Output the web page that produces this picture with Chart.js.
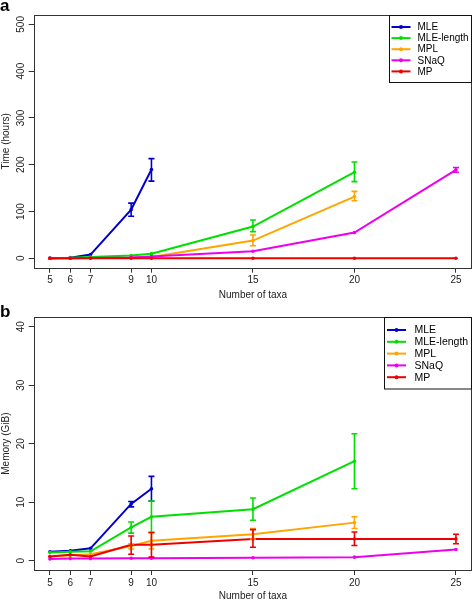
<!DOCTYPE html>
<html>
<head>
<meta charset="utf-8">
<script src="https://cdn.jsdelivr.net/npm/chart.js@4.4.1/dist/chart.umd.min.js"></script>
<style>
  html, body { margin: 0; padding: 0; background: #fff; }
  #wrap { position: relative; width: 474px; height: 601px; overflow: hidden; }
  .lab { position: absolute; font-family: "Liberation Sans", Arial, sans-serif; font-weight: bold; font-size: 17px; line-height: 1; color: #000; }
</style>
</head>
<body>
<div id="wrap">
  <div style="position:absolute;left:0;top:0;width:474px;height:300px"><canvas id="cA"></canvas></div>
  <div style="position:absolute;left:0;top:300px;width:474px;height:301px"><canvas id="cB"></canvas></div>
  <div class="lab" style="left:0;top:-3px">a</div>
  <div class="lab" style="left:0;top:303px">b</div>
</div>
<script>
// ---------------- DATA ----------------
const taxa = [5, 6, 7, 9, 10, 15, 20, 25];
const methods = ['MLE', 'MLE-length', 'MPL', 'SNaQ', 'MP'];
const methodColors = ['#0000CD', '#00E000', '#FFA500', '#EE00EE', '#EE0000'];

// Panel a: time (hours)
const timeMLE       = [0.4, 1.5, 8, 104, 190, null, null, null];
const timeMLElength = [0.3, 1, 3, 6, 10, 68, 184, null];
const timeMPL       = [0.1, 0.3, 0.8, 1.5, 3, 38, 132, null];
const timeSNaQ      = [0.1, 0.3, 0.8, 2, 4, 15, 55, 189];
const timeMP        = [0.2, 0.2, 0.2, 0.2, 0.2, 0.2, 0.2, 0.2];
const timeMLElo       = [null, null, null, 90, 165, null, null, null];
const timeMLEhi       = [null, null, null, 118, 213, null, null, null];
const timeMLElengthLo = [null, null, null, null, null, 57, 164, null];
const timeMLElengthHi = [null, null, null, null, null, 82, 206, null];
const timeMPLlo       = [null, null, null, null, null, 27, 123, null];
const timeMPLhi       = [null, null, null, null, null, 50, 143, null];
const timeSNaQlo      = [null, null, null, null, null, null, null, 184];
const timeSNaQhi      = [null, null, null, null, null, null, null, 194];
const timeMPlo        = [null, null, null, null, null, null, null, null];
const timeMPhi        = [null, null, null, null, null, null, null, null];
const timeTicks = [0, 100, 200, 300, 400, 500];

// Panel b: memory (GiB)
const memMLE       = [1.5, 1.7, 2.1, 9.7, 12.3, null, null, null];
const memMLElength = [1.4, 1.5, 1.6, 5.7, 7.5, 8.8, 17, null];
const memMPL       = [0.7, 0.9, 1.1, 2.5, 3.4, 4.5, 6.5, null];
const memSNaQ      = [0.3, 0.35, 0.35, 0.4, 0.4, 0.5, 0.6, 1.9];
const memMP        = [0.7, 1.0, 0.7, 2.7, 2.7, 3.7, 3.7, 3.7];
const memMLElo       = [null, null, null, 9.2, 10.2, null, null, null];
const memMLEhi       = [null, null, null, 10.1, 14.4, null, null, null];
const memMLElengthLo = [null, null, null, 4.7, 4.8, 6.9, 12.3, null];
const memMLElengthHi = [null, null, null, 6.6, 10.2, 10.7, 21.7, null];
const memMPLlo       = [null, null, null, 2.0, 2.0, 3.7, 5.5, null];
const memMPLhi       = [null, null, null, 2.9, 4.8, 5.5, 7.5, null];
const memSNaQlo      = [null, null, null, null, null, null, null, null];
const memSNaQhi      = [null, null, null, null, null, null, null, null];
const memMPlo        = [null, null, null, 1.1, 0.6, 2.3, 2.6, 2.9];
const memMPhi        = [null, null, null, 4.2, 4.8, 5.3, 4.9, 4.5];
const memTicks = [0, 10, 20, 30, 40];

// ---------------- CHART ----------------
const FONT = '"Liberation Sans", Arial, Helvetica, sans-serif';

const boxPlugin = {
  id: 'rbox',
  afterDatasetsDraw(chart) {
    const ctx = chart.ctx;
    const xs = chart.scales.x, ys = chart.scales.y;
    // error bars
    chart.data.datasets.forEach((ds) => {
      ctx.save();
      ctx.strokeStyle = ds.borderColor;
      ctx.lineWidth = 1.6;
      ds.errLo.forEach((lo, j) => {
        const hi = ds.errHi[j];
        if (lo == null || hi == null) return;
        const px = xs.getPixelForValue(taxa[j]);
        const pl = ys.getPixelForValue(lo), ph = ys.getPixelForValue(hi);
        ctx.beginPath();
        ctx.moveTo(px, pl); ctx.lineTo(px, ph);
        ctx.moveTo(px - 3, pl); ctx.lineTo(px + 3, pl);
        ctx.moveTo(px - 3, ph); ctx.lineTo(px + 3, ph);
        ctx.stroke();
      });
      ctx.restore();
    });
  },
  afterDraw(chart) {
    const ctx = chart.ctx, ca = chart.chartArea;
    const ys = chart.scales.y;
    const o = chart.options.plugins.rbox;
    ctx.save();
    // plot box
    ctx.strokeStyle = '#333';
    ctx.lineWidth = 1;
    ctx.strokeRect(Math.round(ca.left) + 0.5, Math.round(ca.top) + 0.5,
                   Math.round(ca.right) - Math.round(ca.left) - 1, Math.round(ca.bottom) - Math.round(ca.top));
    // rotated y tick labels
    ctx.fillStyle = '#222';
    ctx.font = '10px ' + FONT;
    ctx.textAlign = 'center';
    ctx.textBaseline = 'middle';
    ys.ticks.forEach(t => {
      const py = ys.getPixelForValue(t.value);
      ctx.save();
      ctx.translate(o.yLabelX, py);
      ctx.rotate(-Math.PI / 2);
      ctx.fillText(String(t.value), 0, 0);
      ctx.restore();
    });
    // legend
    const L = o.legend;
    const x2 = Math.round(ca.right) - 0.5, x1 = x2 - L.width;
    const y1 = Math.round(ca.top) + 0.5;
    ctx.fillStyle = '#fff';
    ctx.fillRect(x1, y1, L.width, L.height);
    ctx.strokeStyle = '#111';
    ctx.strokeRect(x1, y1, L.width, L.height);
    ctx.font = L.font + 'px ' + FONT;
    ctx.textAlign = 'left';
    ctx.textBaseline = 'middle';
    chart.data.datasets.forEach((ds, i) => {
      const cy = y1 + L.first + i * L.step;
      const lx1 = x1 + L.lineStart, lx2 = lx1 + L.lineLen;
      ctx.strokeStyle = ds.borderColor;
      ctx.lineWidth = 2;
      ctx.beginPath(); ctx.moveTo(lx1, cy); ctx.lineTo(lx2, cy); ctx.stroke();
      ctx.fillStyle = ds.borderColor;
      ctx.beginPath(); ctx.arc((lx1 + lx2) / 2, cy, 2, 0, Math.PI * 2); ctx.fill();
      ctx.fillStyle = '#000';
      ctx.fillText(ds.label, x1 + L.textStart, cy + 0.5);
    });
    ctx.restore();
  }
};

function makeChart(id, values, lows, highs, yMin, yMax, yTicks, yTitle, cfg) {
  const datasets = methods.map((m, i) => ({
    label: m,
    data: taxa.map((x, j) => ({ x: x, y: values[i][j] })),
    errLo: lows[i],
    errHi: highs[i],
    borderColor: methodColors[i],
    backgroundColor: methodColors[i],
    borderWidth: 2,
    pointRadius: 1.8,
    pointHoverRadius: 1.8,
    pointBorderWidth: 0,
    spanGaps: false,
    tension: 0,
    order: methods.length - i
  }));
  return new Chart(document.getElementById(id), {
    type: 'line',
    data: { datasets },
    plugins: [boxPlugin],
    options: {
      responsive: true,
      maintainAspectRatio: false,
      animation: false,
      events: [],
      layout: { padding: { top: cfg.top, right: 0.7, left: 0, bottom: 0 } },
      plugins: {
        legend: { display: false },
        tooltip: { enabled: false },
        rbox: { yLabelX: 21, legend: cfg.legend }
      },
      scales: {
        x: {
          type: 'linear',
          min: 4.2, max: 25.8,
          afterBuildTicks: s => { s.ticks = taxa.map(v => ({ value: v })); },
          afterFit: s => { s.height = cfg.xHeight; },
          grid: { display: true, drawOnChartArea: false, drawTicks: true, tickLength: 5, color: '#333', lineWidth: 1 },
          border: { display: false },
          ticks: { autoSkip: false, maxRotation: 0, minRotation: 0, padding: 2, color: '#222',
                   font: { family: FONT, size: 10 }, callback: v => String(v) },
          title: { display: true, text: 'Number of taxa', color: '#222',
                   font: { family: FONT, size: 10 }, padding: { top: 0, bottom: cfg.titleBottom } }
        },
        y: {
          type: 'linear',
          min: yMin, max: yMax,
          afterBuildTicks: s => { s.ticks = yTicks.map(v => ({ value: v })); },
          afterFit: s => { s.width = 33.7; },
          grid: { display: true, drawOnChartArea: false, drawTicks: true, tickLength: 5, color: '#333', lineWidth: 1 },
          border: { display: false },
          ticks: { display: false },
          title: { display: true, text: yTitle, color: '#222',
                   font: { family: FONT, size: 10 }, padding: { top: 0, bottom: 0 } }
        }
      }
    }
  });
}

makeChart('cA',
  [timeMLE, timeMLElength, timeMPL, timeSNaQ, timeMP],
  [timeMLElo, timeMLElengthLo, timeMPLlo, timeSNaQlo, timeMPlo],
  [timeMLEhi, timeMLElengthHi, timeMPLhi, timeSNaQhi, timeMPhi],
  -20, 520, timeTicks, 'Time (hours)',
  { top: 15, xHeight: 32.3, titleBottom: -1,
    legend: { width: 82, height: 67, first: 11.5, step: 11.1, lineStart: 2, lineLen: 19, textStart: 28, font: 10 } });

makeChart('cB',
  [memMLE, memMLElength, memMPL, memSNaQ, memMP],
  [memMLElo, memMLElengthLo, memMPLlo, memSNaQlo, memMPlo],
  [memMLEhi, memMLElengthHi, memMPLhi, memSNaQhi, memMPhi],
  -1.6, 41.6, memTicks, 'Memory (GiB)',
  { top: 17.3, xHeight: 31, titleBottom: -1.5,
    legend: { width: 87, height: 71.5, first: 12.5, step: 11.8, lineStart: 2.5, lineLen: 19, textStart: 30, font: 10.5 } });
</script>
</body>
</html>
